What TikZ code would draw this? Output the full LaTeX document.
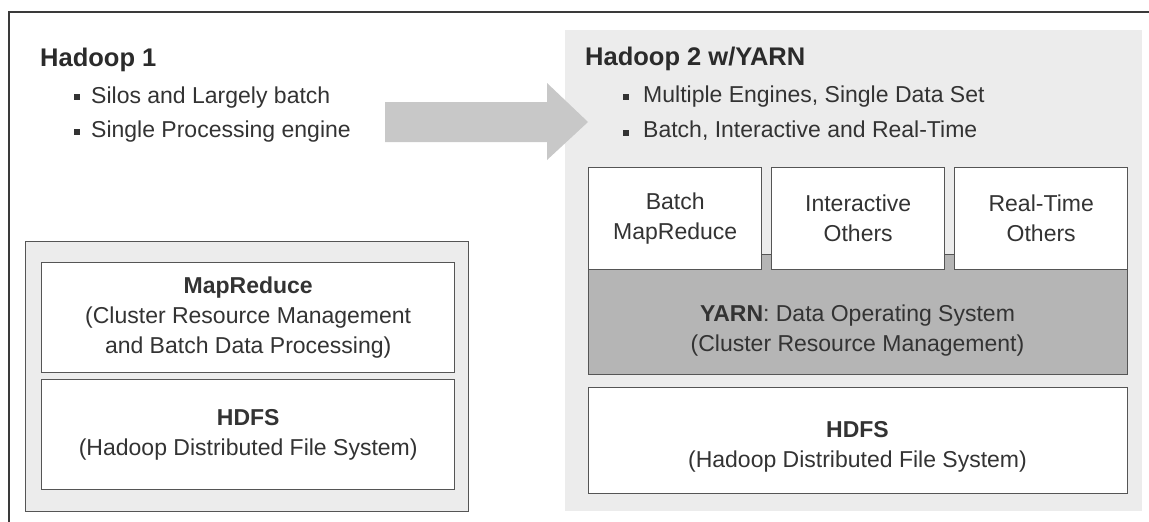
\documentclass[tikz,border=0pt]{standalone}
\usepackage{fontspec}
\setmainfont{Liberation Sans}
\definecolor{panelgrey}{HTML}{ECECEC}
\definecolor{yarngrey}{HTML}{B5B5B5}
\definecolor{arrowgrey}{HTML}{C8C8C8}
\definecolor{edgegrey}{HTML}{555555}
\definecolor{framegrey}{HTML}{3A3A3A}
\definecolor{inkgrey}{HTML}{333333}
\begin{document}
\begin{tikzpicture}[x=1pt,y=-1pt,
  layer/.style={draw=edgegrey, line width=1.4pt, fill=white, inner sep=0pt,
    align=center, text=inkgrey, font=\fontsize{23}{30}\selectfont, anchor=north west},
  label/.style={inner sep=0pt, align=center, text=inkgrey, font=\fontsize{23}{30}\selectfont},
  heading/.style={anchor=base west, inner sep=0pt, text=inkgrey!85!black,
    font=\fontsize{25.5}{30}\selectfont\bfseries},
  point/.style={anchor=base west, inner sep=0pt, text=inkgrey,
    font=\fontsize{23}{30}\selectfont},
  bulletsq/.style={fill=inkgrey, minimum size=6pt, inner sep=0pt},
  frameline/.style={draw=framegrey, line width=1.5pt}]

\useasboundingbox (0,0) rectangle (1149,522);
\fill[white] (0,0) rectangle (1149,522);

% page frame (top and left edges)
\coordinate (frTR) at (1149,12);
\coordinate (frTL) at (9,12);
\coordinate (frBL) at (9,522);
\draw[frameline] (frTR) -- (frTL) -- (frBL);

% Hadoop 2 panel background
\fill[panelgrey] (565,30) rectangle (1142,511);

% ---------- Hadoop 1 ----------
\node[heading] (h1title) at (40,66.7) {Hadoop 1};
\node[bulletsq] (h1b1) at (77,97) {};
\node[point] (h1t1) at (91,103) {Silos and Largely batch};
\node[bulletsq] (h1b2) at (77,132) {};
\node[point] (h1t2) at (91,137) {Single Processing engine};

\node[draw=edgegrey, line width=1.4pt, fill=panelgrey, inner sep=0pt,
  minimum width=443pt, minimum height=270pt, anchor=north west] (h1stack) at (25,241) {};
\node[layer, minimum width=413pt, minimum height=110pt] (mr1) at (41,262)
  {\textbf{MapReduce}\\(Cluster Resource Management\\and Batch Data Processing)};
\node[layer, minimum width=413pt, minimum height=110pt] (hdfs1) at (41,379)
  {\textbf{HDFS}\\(Hadoop Distributed File System)};

% transition arrow
\fill[arrowgrey] (385,102) -- (547,102) -- (547,83) -- (588,122)
  -- (547,160) -- (547,142) -- (385,142) -- cycle;

% ---------- Hadoop 2 ----------
\node[heading] (h2title) at (585,65.7) {Hadoop 2 w/YARN};
\node[bulletsq] (h2b1) at (626,97) {};
\node[point] (h2t1) at (643,102) {Multiple Engines, Single Data Set};
\node[bulletsq] (h2b2) at (626,133) {};
\node[point] (h2t2) at (643,137.5) {Batch, Interactive and Real-Time};

\node[layer, fill=yarngrey, minimum width=539pt, minimum height=120pt] (yarn) at (588,254) {};
\node[label] (yarntxt) at (857.5,331)
  {\textbf{YARN}: Data Operating System\\(Cluster Resource Management)};

\node[layer, minimum width=173pt, minimum height=102pt] (batch) at (588,167)
  {Batch\\MapReduce};
\node[layer, minimum width=173pt, minimum height=102pt] (inter) at (771,167)
  {Interactive\\Others};
\node[layer, minimum width=173pt, minimum height=102pt] (rt) at (954,167)
  {Real-Time\\Others};

\node[layer, minimum width=539pt, minimum height=106pt] (hdfs2) at (588,387) {};
\node[label] (hdfs2txt) at (857.5,446.5)
  {\textbf{HDFS}\\(Hadoop Distributed File System)};

\end{tikzpicture}
\end{document}
